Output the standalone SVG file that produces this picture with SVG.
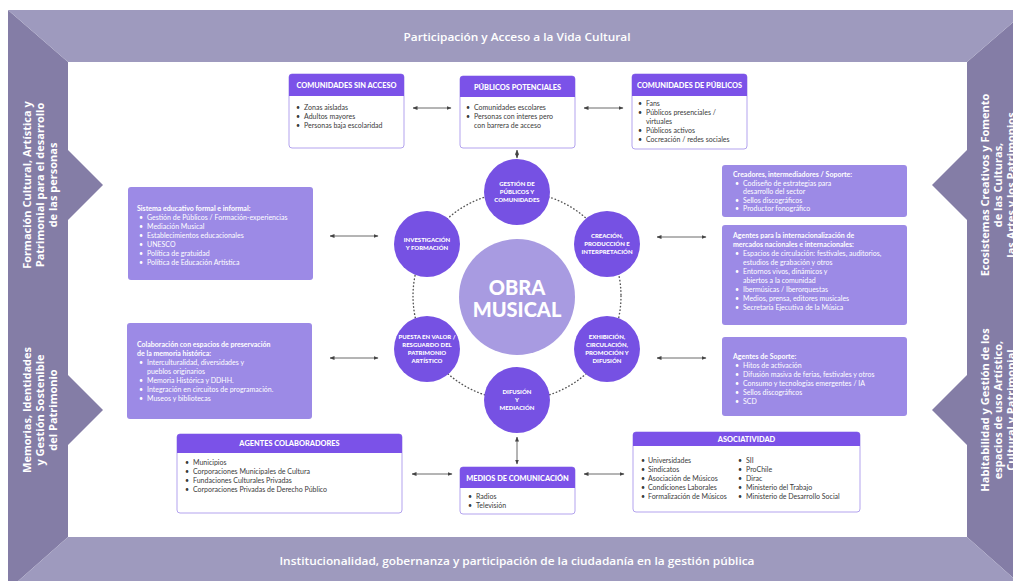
<svg xmlns="http://www.w3.org/2000/svg" width="1013" height="581" viewBox="0 0 1013 581">
<defs>
<style>
.band-top{fill:#9E9ABE}
.band-side{fill:#847DA6}
.band-txt{font-family:"Open Sans","Liberation Sans",sans-serif;font-weight:600;font-size:11px;fill:#fff}
.side-txt{font-family:"Open Sans","Liberation Sans",sans-serif;font-weight:bold;font-size:11px;fill:#fff;text-anchor:middle}
.wbox{fill:#fff;stroke:#B3A3EE;stroke-width:1}
.hdr{fill:#7B52E8}
.hdr-txt{font-family:Lato,"Liberation Sans",sans-serif;font-weight:900;font-size:7.4px;fill:#fff;text-anchor:middle}
.item{font-family:Lato,"Liberation Sans",sans-serif;font-size:7px;fill:#3a3a3a}
.lbox{fill:#9C8AE6}
.litem{font-family:Lato,"Liberation Sans",sans-serif;font-size:7px;fill:#fff}
.lhead{font-family:Lato,"Liberation Sans",sans-serif;font-size:7px;font-weight:bold;fill:#fff}
.sc{fill:#7651E3}
.sc-txt{font-family:Lato,"Liberation Sans",sans-serif;font-weight:900;font-size:6px;fill:#fff;text-anchor:middle}
.big{fill:#A89BE1}
.big-txt{font-family:Lato,"Liberation Sans",sans-serif;font-weight:900;font-size:20px;fill:#fff;text-anchor:middle}
.conn{stroke:#444;stroke-width:0.8;fill:none;marker-start:url(#ah);marker-end:url(#ah)}
.ring{stroke:#555;stroke-width:1.4;fill:none;stroke-dasharray:0.5 3;stroke-linecap:round}
</style>
<marker id="ah" viewBox="0 0 10 10" refX="9" refY="5" markerWidth="5" markerHeight="5" markerUnits="userSpaceOnUse" orient="auto-start-reverse">
<path d="M0,1 L10,5 L0,9 z" fill="#444"/>
</marker>
</defs>
<rect width="1013" height="581" fill="#fff"/>

<g id="frame">
<polygon class="band-side" points="8,10 68,62 68,537 8,590"/>
<polygon class="band-side" points="1027,10 967,62 967,537 1027,590"/>
<polygon class="band-top" points="8,10 1027,10 967,62 68,62"/>
<polygon class="band-top" points="68,537 967,537 1027,590 8,590"/>
<polygon class="band-side" points="68,150 103,185 68,220"/>
<polygon class="band-side" points="68,375 103,410 68,445"/>
<polygon class="band-side" points="967,150 932,185 967,220"/>
<polygon class="band-side" points="967,375 932,410 967,445"/>
<text class="band-txt" x="517" y="41" text-anchor="middle" textLength="227" lengthAdjust="spacingAndGlyphs">Participación y Acceso a la Vida Cultural</text>
<text class="band-txt" x="517" y="565" text-anchor="middle" textLength="475" lengthAdjust="spacingAndGlyphs">Institucionalidad, gobernanza y participación de la ciudadanía en la gestión pública</text>
<text class="side-txt" transform="translate(31,185) rotate(-90)"><tspan x="0" y="0">Formación Cultural, Artística y</tspan><tspan x="0" dy="13">Patrimonial para el desarrollo</tspan><tspan x="0" dy="13">de las personas</tspan></text>
<text class="side-txt" transform="translate(31,410) rotate(-90)"><tspan x="0" y="0">Memorias, Identidades</tspan><tspan x="0" dy="13">y Gestión Sostenible</tspan><tspan x="0" dy="13">del Patrimonio</tspan></text>
<text class="side-txt" transform="translate(989,185) rotate(-90)"><tspan x="0" y="0">Ecosistemas Creativos y Fomento</tspan><tspan x="0" dy="13">de las Culturas,</tspan><tspan x="0" dy="13">las Artes y los Patrimonios</tspan></text>
<text class="side-txt" transform="translate(989,410) rotate(-90)"><tspan x="0" y="0">Habitabilidad y Gestión de los</tspan><tspan x="0" dy="13">espacios de uso Artístico,</tspan><tspan x="0" dy="13">Cultural y Patrimonial</tspan></text>
</g>

<g id="connectors">
<circle class="ring" cx="517" cy="296" r="104"/>
<line class="conn" x1="413" y1="108" x2="451" y2="108"/>
<line class="conn" x1="584" y1="108" x2="623" y2="108"/>
<line class="conn" x1="517" y1="150" x2="517" y2="158"/>
<line class="conn" x1="330" y1="236" x2="378" y2="236"/>
<line class="conn" x1="330" y1="358" x2="378" y2="358"/>
<line class="conn" x1="657" y1="237" x2="706" y2="237"/>
<line class="conn" x1="657" y1="358" x2="706" y2="358"/>
<line class="conn" x1="412" y1="474" x2="452" y2="474"/>
<line class="conn" x1="584" y1="474" x2="624" y2="474"/>
<line class="conn" x1="517" y1="437" x2="517" y2="464"/>
</g>

<g id="comunidades-sin-acceso">
<rect class="wbox" x="289" y="74" width="115" height="74" rx="3"/>
<path class="hdr" d="M289,96 V77 a3,3 0 0 1 3,-3 H401 a3,3 0 0 1 3,3 V96 z"/>
<text class="hdr-txt" x="346.5" y="88">COMUNIDADES SIN ACCESO</text>
<text class="item"><tspan x="296" y="110">•</tspan><tspan x="304" y="110">Zonas aisladas</tspan><tspan x="296" y="119">•</tspan><tspan x="304" y="119">Adultos mayores</tspan><tspan x="296" y="128">•</tspan><tspan x="304" y="128">Personas baja escolaridad</tspan></text>
</g>

<g id="publicos-potenciales">
<rect class="wbox" x="460" y="76" width="115" height="72" rx="3"/>
<path class="hdr" d="M460,97 V79 a3,3 0 0 1 3,-3 H572 a3,3 0 0 1 3,3 V97 z"/>
<text class="hdr-txt" x="517.5" y="90">PÚBLICOS POTENCIALES</text>
<text class="item"><tspan x="466" y="110">•</tspan><tspan x="474" y="110">Comunidades escolares</tspan><tspan x="466" y="119">•</tspan><tspan x="474" y="119">Personas con interes pero</tspan><tspan x="474" y="128">con barrera de acceso</tspan></text>
</g>

<g id="comunidades-de-publicos">
<rect class="wbox" x="632" y="74" width="115" height="75" rx="3"/>
<path class="hdr" d="M632,96 V77 a3,3 0 0 1 3,-3 H744 a3,3 0 0 1 3,3 V96 z"/>
<text class="hdr-txt" x="689.5" y="88">COMUNIDADES DE PÚBLICOS</text>
<text class="item"><tspan x="638" y="106">•</tspan><tspan x="646" y="106">Fans</tspan><tspan x="638" y="115">•</tspan><tspan x="646" y="115">Públicos presenciales /</tspan><tspan x="646" y="124">virtuales</tspan><tspan x="638" y="133">•</tspan><tspan x="646" y="133">Públicos activos</tspan><tspan x="638" y="142">•</tspan><tspan x="646" y="142">Cocreación / redes sociales</tspan></text>
</g>

<g id="sistema-educativo">
<rect class="lbox" x="128" y="187" width="185" height="93" rx="3"/>
<text class="lhead" x="137" y="211">Sistema educativo formal e informal:</text>
<text class="litem"><tspan x="139" y="220">•</tspan><tspan x="147" y="220">Gestión de Públicos / Formación-experiencias</tspan><tspan x="139" y="229">•</tspan><tspan x="147" y="229">Mediación Musical</tspan><tspan x="139" y="238">•</tspan><tspan x="147" y="238">Establecimientos educacionales</tspan><tspan x="139" y="247">•</tspan><tspan x="147" y="247">UNESCO</tspan><tspan x="139" y="256">•</tspan><tspan x="147" y="256">Política de gratuidad</tspan><tspan x="139" y="265">•</tspan><tspan x="147" y="265">Política de Educación Artística</tspan></text>
</g>

<g id="memoria-historica">
<rect class="lbox" x="127" y="323" width="185" height="96" rx="3"/>
<text class="lhead"><tspan x="137" y="347">Colaboración con espacios de preservación</tspan><tspan x="137" y="356">de la memoria histórica:</tspan></text>
<text class="litem"><tspan x="139" y="365">•</tspan><tspan x="147" y="365">Interculturalidad, diversidades y</tspan><tspan x="147" y="374">pueblos originarios</tspan><tspan x="139" y="383">•</tspan><tspan x="147" y="383">Memoria Histórica y DDHH.</tspan><tspan x="139" y="392">•</tspan><tspan x="147" y="392">Integración en circuitos de programación.</tspan><tspan x="139" y="401">•</tspan><tspan x="147" y="401">Museos y bibliotecas</tspan></text>
</g>

<g id="creadores">
<rect class="lbox" x="722" y="165" width="185" height="52" rx="3"/>
<text class="lhead" x="733" y="177">Creadores, intermediadores / Soporte:</text>
<text class="litem"><tspan x="735" y="185.5">•</tspan><tspan x="743" y="185.5">Codiseño de estrategias para</tspan><tspan x="743" y="194">desarrollo del sector</tspan><tspan x="735" y="202.5">•</tspan><tspan x="743" y="202.5">Sellos discográficos</tspan><tspan x="735" y="211">•</tspan><tspan x="743" y="211">Productor fonográfico</tspan></text>
</g>

<g id="internacionalizacion">
<rect class="lbox" x="722" y="225" width="185" height="100" rx="3"/>
<text class="lhead"><tspan x="733" y="238">Agentes para la internacionalización de</tspan><tspan x="733" y="247">mercados nacionales e internacionales:</tspan></text>
<text class="litem"><tspan x="735" y="256">•</tspan><tspan x="743" y="256">Espacios de circulación: festivales, auditorios,</tspan><tspan x="743" y="265">estudios de grabación y otros</tspan><tspan x="735" y="274">•</tspan><tspan x="743" y="274">Entornos vivos, dinámicos y</tspan><tspan x="743" y="283">abiertos a la comunidad</tspan><tspan x="735" y="292">•</tspan><tspan x="743" y="292">Ibermúsicas / Iberorquestas</tspan><tspan x="735" y="301">•</tspan><tspan x="743" y="301">Medios, prensa, editores musicales</tspan><tspan x="735" y="310">•</tspan><tspan x="743" y="310">Secretaría Ejecutiva de la Música</tspan></text>
</g>

<g id="agentes-soporte">
<rect class="lbox" x="722" y="337" width="185" height="79" rx="3"/>
<text class="lhead" x="733" y="359">Agentes de Soporte:</text>
<text class="litem"><tspan x="735" y="368">•</tspan><tspan x="743" y="368">Hitos de activación</tspan><tspan x="735" y="377">•</tspan><tspan x="743" y="377">Difusión masiva de ferias, festivales y otros</tspan><tspan x="735" y="386">•</tspan><tspan x="743" y="386">Consumo y tecnologías emergentes / IA</tspan><tspan x="735" y="395">•</tspan><tspan x="743" y="395">Sellos discográficos</tspan><tspan x="735" y="404">•</tspan><tspan x="743" y="404">SCD</tspan></text>
</g>

<g id="agentes-colaboradores">
<rect class="wbox" x="177" y="434" width="225" height="79" rx="3"/>
<path class="hdr" d="M177,453 V437 a3,3 0 0 1 3,-3 H399 a3,3 0 0 1 3,3 V453 z"/>
<text class="hdr-txt" x="289.5" y="446">AGENTES COLABORADORES</text>
<text class="item"><tspan x="185" y="465">•</tspan><tspan x="193" y="465">Municipios</tspan><tspan x="185" y="474">•</tspan><tspan x="193" y="474">Corporaciones Municipales de Cultura</tspan><tspan x="185" y="483">•</tspan><tspan x="193" y="483">Fundaciones Culturales Privadas</tspan><tspan x="185" y="492">•</tspan><tspan x="193" y="492">Corporaciones Privadas de Derecho Público</tspan></text>
</g>

<g id="medios-comunicacion">
<rect class="wbox" x="460" y="467" width="115" height="47" rx="3"/>
<path class="hdr" d="M460,488 V470 a3,3 0 0 1 3,-3 H572 a3,3 0 0 1 3,3 V488 z"/>
<text class="hdr-txt" x="517.5" y="480.5">MEDIOS DE COMUNICACIÓN</text>
<text class="item"><tspan x="468" y="499">•</tspan><tspan x="476" y="499">Radios</tspan><tspan x="468" y="508">•</tspan><tspan x="476" y="508">Televisión</tspan></text>
</g>

<g id="asociatividad">
<rect class="wbox" x="633" y="432" width="227" height="80" rx="3"/>
<path class="hdr" d="M633,446 V435 a3,3 0 0 1 3,-3 H857 a3,3 0 0 1 3,3 V446 z"/>
<text class="hdr-txt" x="746.5" y="442">ASOCIATIVIDAD</text>
<text class="item"><tspan x="641" y="463">•</tspan><tspan x="648" y="463">Universidades</tspan><tspan x="641" y="472">•</tspan><tspan x="648" y="472">Sindicatos</tspan><tspan x="641" y="481">•</tspan><tspan x="648" y="481">Asociación de Músicos</tspan><tspan x="641" y="490">•</tspan><tspan x="648" y="490">Condiciones Laborales</tspan><tspan x="641" y="499">•</tspan><tspan x="648" y="499">Formalización de Músicos</tspan></text>
<text class="item"><tspan x="738" y="463">•</tspan><tspan x="746" y="463">SII</tspan><tspan x="738" y="472">•</tspan><tspan x="746" y="472">ProChile</tspan><tspan x="738" y="481">•</tspan><tspan x="746" y="481">Dirac</tspan><tspan x="738" y="490">•</tspan><tspan x="746" y="490">Ministerio del Trabajo</tspan><tspan x="738" y="499">•</tspan><tspan x="746" y="499">Ministerio de Desarrollo Social</tspan></text>
</g>

<g id="obra-musical">
<circle class="big" cx="517" cy="297" r="58"/>
<text class="big-txt" x="517" y="295">OBRA</text>
<text class="big-txt" x="517" y="317">MUSICAL</text>
</g>

<g id="gestion-publicos">
<circle class="sc" cx="517" cy="192" r="33"/>
<text class="sc-txt"><tspan x="517" y="186">GESTIÓN DE</tspan><tspan x="517" y="194">PÚBLICOS Y</tspan><tspan x="517" y="202">COMUNIDADES</tspan></text>
</g>
<g id="creacion">
<circle class="sc" cx="607" cy="244" r="33"/>
<text class="sc-txt"><tspan x="607" y="238">CREACIÓN,</tspan><tspan x="607" y="246">PRODUCCIÓN E</tspan><tspan x="607" y="254">INTERPRETACIÓN</tspan></text>
</g>
<g id="exhibicion">
<circle class="sc" cx="607" cy="349" r="33"/>
<text class="sc-txt"><tspan x="607" y="339">EXHIBICIÓN,</tspan><tspan x="607" y="347">CIRCULACIÓN,</tspan><tspan x="607" y="355">PROMOCIÓN Y</tspan><tspan x="607" y="363">DIFUSIÓN</tspan></text>
</g>
<g id="difusion-mediacion">
<circle class="sc" cx="517" cy="400" r="33"/>
<text class="sc-txt"><tspan x="517" y="394">DIFUSIÓN</tspan><tspan x="517" y="402">Y</tspan><tspan x="517" y="410">MEDIACIÓN</tspan></text>
</g>
<g id="puesta-en-valor">
<circle class="sc" cx="427" cy="349" r="33"/>
<text class="sc-txt"><tspan x="427" y="339">PUESTA EN VALOR /</tspan><tspan x="427" y="347">RESGUARDO DEL</tspan><tspan x="427" y="355">PATRIMONIO</tspan><tspan x="427" y="363">ARTÍSTICO</tspan></text>
</g>
<g id="investigacion">
<circle class="sc" cx="427" cy="244" r="33"/>
<text class="sc-txt"><tspan x="427" y="242">INVESTIGACIÓN</tspan><tspan x="427" y="250">Y FORMACIÓN</tspan></text>
</g>
</svg>
